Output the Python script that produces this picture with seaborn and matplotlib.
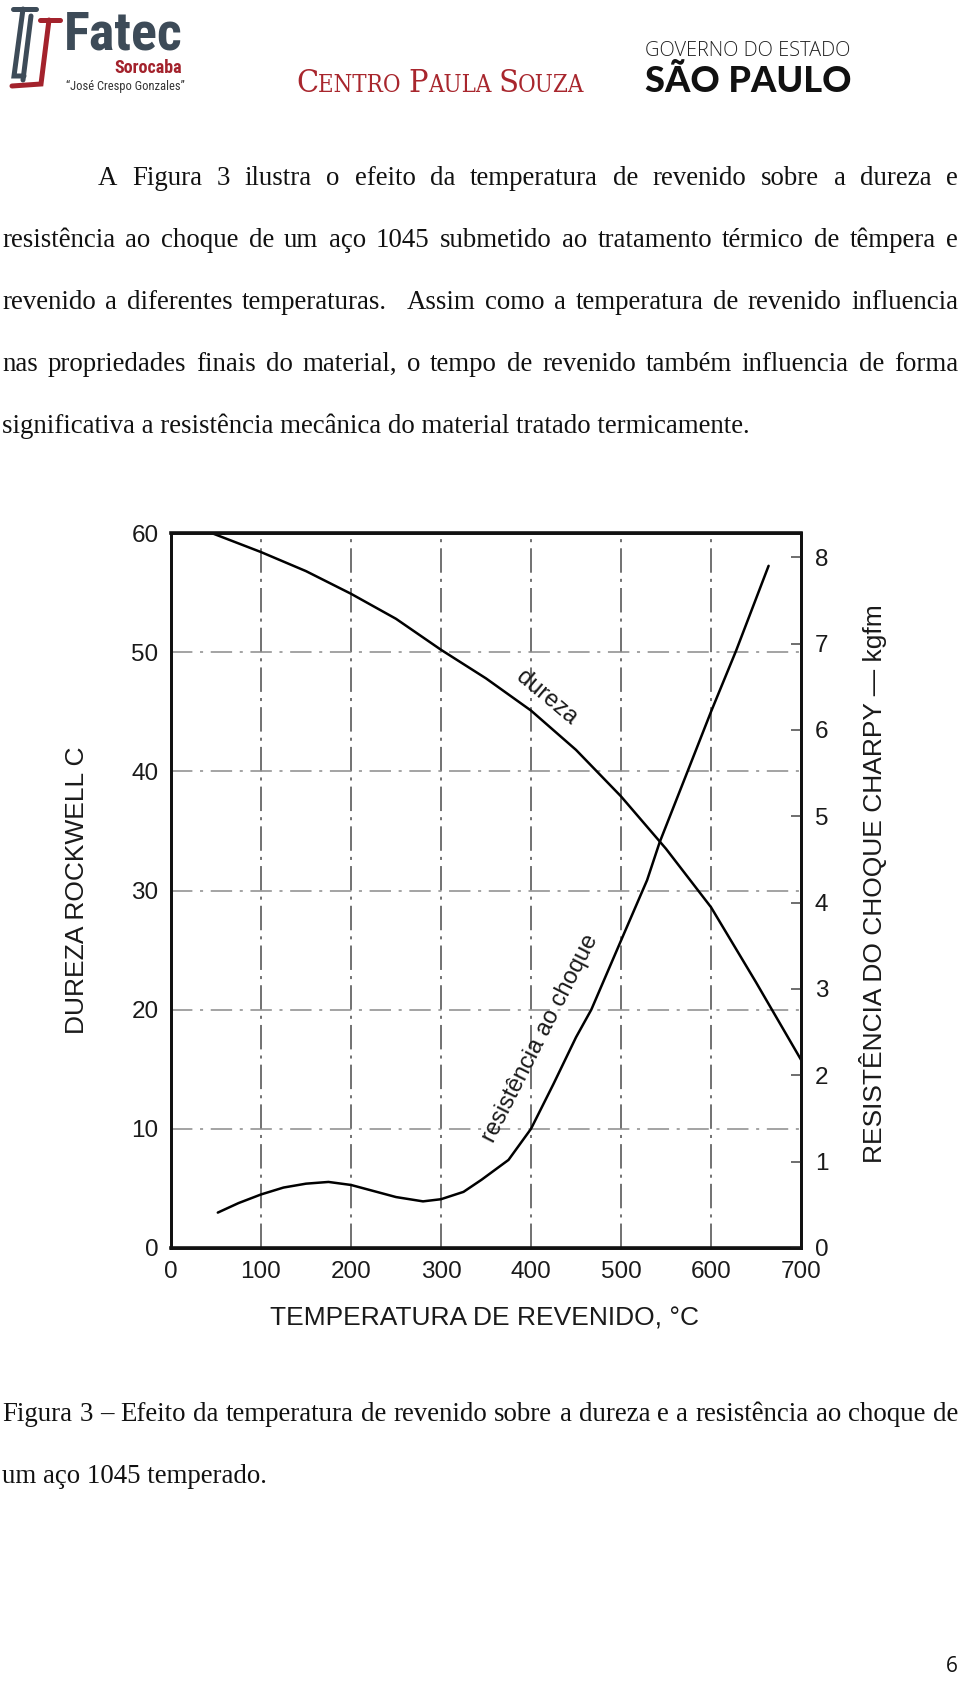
import matplotlib
matplotlib.use("Agg")
import matplotlib.pyplot as plt
import seaborn as sns
from matplotlib.lines import Line2D
from matplotlib import font_manager

# valores (dureza HRC no eixo esquerdo, Charpy kgfm no direito)
temp_dureza = [45, 100, 150, 200, 250, 300, 350, 400, 450, 500, 550, 600, 650, 700]
dureza_hrc = [60, 58.4, 56.8, 54.9, 52.8, 50.2, 47.8, 45.1, 41.8, 37.9, 33.5, 28.6, 22.3, 15.8]

temp_choque = [52, 75, 100, 125, 150, 175, 200, 225, 250, 280, 300, 325, 345, 375,
               400, 425, 450, 467, 500, 529, 543, 574, 600, 628, 664]
choque_kgfm = [0.41, 0.52, 0.62, 0.70, 0.745, 0.765, 0.73, 0.66, 0.59, 0.54, 0.565, 0.65,
               0.79, 1.02, 1.38, 1.90, 2.44, 2.76, 3.56, 4.26, 4.70, 5.52, 6.21, 6.92, 7.90]

x_ticks = [0, 100, 200, 300, 400, 500, 600, 700]
hrc_ticks = [0, 10, 20, 30, 40, 50, 60]
kgfm_ticks = [0, 1, 2, 3, 4, 5, 6, 7, 8]
kgfm_max = 8.28  # 8 kgfm fica um pouco abaixo de 60 HRC

paragrafo = [
    "A Figura 3 ilustra o efeito da temperatura de revenido sobre a dureza e",
    "resistência ao choque de um aço 1045 submetido ao tratamento térmico de têmpera e",
    "revenido a diferentes temperaturas.  Assim como a temperatura de revenido influencia",
    "nas propriedades finais do material, o tempo de revenido também influencia de forma",
    "significativa a resistência mecânica do material tratado termicamente.",
]
legenda = [
    "Figura 3 – Efeito da temperatura de revenido sobre a dureza e a resistência ao choque de",
    "um aço 1045 temperado.",
]

sns.set_style("white")
plt.rcParams["font.family"] = ["Liberation Sans", "DejaVu Sans"]

# fontes estreitas, se existirem
fontes = font_manager.fontManager.ttflist
nomes = {f.name for f in fontes}


def fonte(*cands):
    for c in cands:
        if c in nomes:
            return c
    return cands[-1]


tem_serif_cond = any(f.name == "DejaVu Serif" and f.stretch == "condensed" for f in fontes)
tem_sans_cond = any(f.name == "DejaVu Sans" and f.stretch == "condensed" for f in fontes)

W, H = 960, 1704
fig = plt.figure(figsize=(W / 100, H / 100), dpi=100)
rend = fig.canvas.get_renderer()


def fx(x):
    return x / W


def fy(y):
    return 1 - y / H


def ajustar(s, x0, x1, base, **kw):
    t = fig.text(fx(x0), fy(base), s, fontsize=10, va="baseline", ha="left", **kw)
    w = t.get_window_extent(rend).width
    t.set_fontsize(10 * (x1 - x0) / w)
    return t


def linha(s, x0, x1, base, fs, justificar=True, **kw):
    if not justificar:
        fig.text(fx(x0), fy(base), s, fontsize=fs, va="baseline", **kw)
        return
    palavras = s.split(" ")
    ts = [fig.text(0, fy(base), p, fontsize=fs, va="baseline", **kw) for p in palavras]
    ws = [t.get_window_extent(rend).width if p else 0 for t, p in zip(ts, palavras)]
    gap = (x1 - x0 - sum(ws)) / (len(ts) - 1)
    x = x0
    for t, w in zip(ts, ws):
        t.set_x(fx(x))
        x += w + gap


# ---------- cabeçalho ----------
cinza = "#3d4b58"
vermelho = "#a3222c"
for pts, cor in [
    ([(13, 9), (36, 9)], cinza),
    ([(23, 9), (14, 76), (24, 76)], cinza),
    ([(31, 16), (23, 80)], cinza),
    ([(40, 20), (60, 20)], vermelho),
    ([(49, 20), (41, 84), (12, 86)], vermelho),
]:
    xs, ys = zip(*pts)
    fig.add_artist(Line2D([fx(v) for v in xs], [fy(v) for v in ys], color=cor, lw=3.6,
                          solid_joinstyle="miter"))

narrow = fonte("Liberation Sans Narrow", "Roboto Condensed", "Liberation Sans")
if narrow == "Liberation Sans" and tem_sans_cond:
    fatec_kw = dict(family="DejaVu Sans", fontstretch="condensed")
else:
    fatec_kw = dict(family=narrow)
ajustar("Fatec", 64, 182, 50, color=cinza, fontweight="bold", **fatec_kw)
ajustar("Sorocaba", 114, 182, 73, color=vermelho, fontweight="bold", **fatec_kw)
ajustar("“José Crespo Gonzales”", 66, 184, 90, color="#333333", **fatec_kw)

# Centro Paula Souza: iniciais maiores
if tem_serif_cond:
    cps_kw = dict(family="DejaVu Serif", fontstretch="condensed")
else:
    cps_kw = dict(family="Liberation Serif")
pecas = [("C", 1.35), ("ENTRO ", 1.0), ("P", 1.35), ("AULA ", 1.0), ("S", 1.35), ("OUZA", 1.0)]
base_fs = 10
ts = [fig.text(0, fy(92), p, fontsize=base_fs * k, va="baseline", color="#a8262d",
               **cps_kw) for p, k in pecas]
ws = [t.get_window_extent(rend).width for t in ts]
esc = (584 - 296) / sum(ws)
x = 296
for t, (p, k), w in zip(ts, pecas, ws):
    t.set_fontsize(base_fs * k * esc)
    t.set_x(fx(x))
    x += w * esc

ajustar("GOVERNO DO ESTADO", 645, 851, 56, color="#222222", family="Open Sans", fontweight="light")
ajustar("SÃO PAULO", 645, 851, 92, color="#111111", family="Lato", fontweight="black")

# ---------- texto ----------
serif = dict(family="Liberation Serif", color="#111111")
tmp = fig.text(0, 0, paragrafo[-1], fontsize=10, **serif)
fs_txt = 10 * (753 - 2) / tmp.get_window_extent(rend).width
tmp.remove()

bases = [185, 247, 309, 371, 433]
for i, (s, b) in enumerate(zip(paragrafo, bases)):
    x0 = 98 if i == 0 else 2
    linha(s, x0, 958, b, fs_txt, justificar=(i < len(paragrafo) - 1), **serif)

linha(legenda[0], 2, 958, 1421, fs_txt, **serif)
linha(legenda[1], 2, 958, 1483, fs_txt, justificar=False, **serif)

fig.text(fx(958), fy(1672), "6", fontsize=15, ha="right", va="baseline",
         family="Open Sans", color="#111111")

# ---------- gráfico ----------
ax = fig.add_axes([fx(171), fy(1248), 630 / W, 715 / H])
ax2 = ax.twinx()

sns.lineplot(x=temp_dureza, y=dureza_hrc, ax=ax, color="black", lw=1.8)
sns.lineplot(x=temp_choque, y=choque_kgfm, ax=ax2, color="black", lw=1.8)

ax.set_xlim(0, 700)
ax.set_ylim(0, 60)
ax2.set_ylim(0, kgfm_max)
ax.set_xticks(x_ticks)
ax.set_yticks(hrc_ticks)
ax2.set_yticks(kgfm_ticks)

ax.xaxis.grid(True, color="#4a4a4a", lw=1.1, ls=(0, (16, 4, 2, 4)))
ax.yaxis.grid(True, color="#8a8a8a", lw=1.1, ls=(0, (14, 5, 2, 5)))
ax.set_axisbelow(True)

for a in (ax, ax2):
    for sp in a.spines.values():
        sp.set_visible(True)
        sp.set_color("#111111")
        sp.set_linewidth(2.0)
ax.spines["top"].set_linewidth(2.6)
ax.spines["bottom"].set_linewidth(2.6)

ax.tick_params(axis="both", length=0, labelsize=17.5, labelcolor="#1a1a1a")
ax.tick_params(axis="y", pad=9)
ax.tick_params(axis="x", pad=9)
ax2.tick_params(axis="y", direction="in", length=7, width=1.2, color="#555555",
                labelsize=17.5, labelcolor="#1a1a1a", pad=10)

ax.set_xlabel("TEMPERATURA DE REVENIDO, °C", fontsize=19, color="#1a1a1a")
ax.set_ylabel("DUREZA ROCKWELL C", fontsize=19, color="#1a1a1a")
ax2.set_ylabel("RESISTÊNCIA DO CHOQUE CHARPY — kgfm", fontsize=19, color="#1a1a1a")
ax.xaxis.set_label_coords(0.497, -0.082)
ax.yaxis.set_label_coords(-0.130, 0.5)
ax2.yaxis.set_label_coords(1.092, 0.51)

ax.text(417, 46.2, "dureza", rotation=-40, ha="center", va="center",
        rotation_mode="anchor", fontsize=17, color="#1a1a1a")
ax.text(410, 17.6, "resistência ao choque", rotation=63, ha="center", va="center",
        rotation_mode="anchor", fontsize=17, color="#1a1a1a")

fig.savefig("out.png", dpi=100)
